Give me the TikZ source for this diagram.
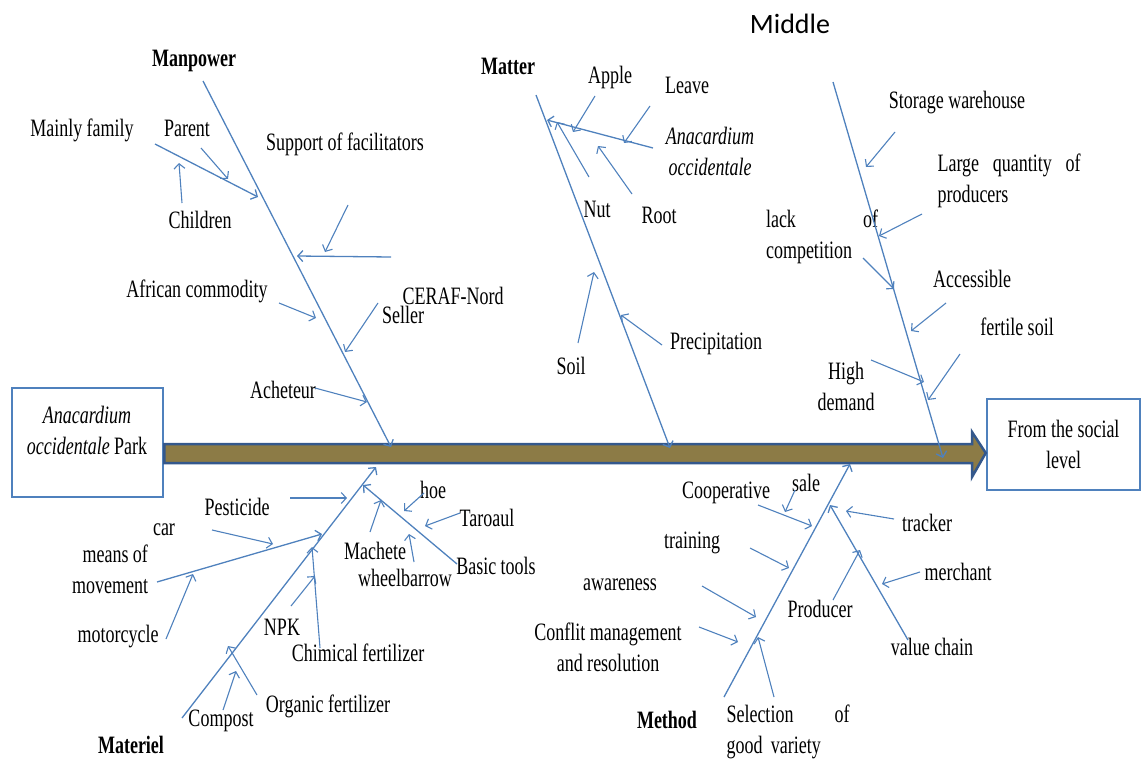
\documentclass[tikz,border=0pt]{standalone}
\usepackage{fontspec}
\setmainfont{Liberation Serif}[FakeStretch=0.72]
\newfontfamily\midfont{Carlito}
\usepackage{tikz}
\usetikzlibrary{arrows.meta, positioning}
\definecolor{boneblue}{RGB}{79,129,189}
\definecolor{barfill}{RGB}{140,123,70}
\definecolor{barline}{RGB}{52,88,140}
\tikzset{>={Straight Barb[length=5pt,width=11pt]}}
\tikzset{
  cause/.style={->, boneblue, line width=1.1pt},
  bone/.style={->, boneblue, line width=1.3pt},
  lbl/.style={inner sep=0pt},
  head/.style={inner sep=0pt, font=\fontsize{25}{31}\selectfont\bfseries},
  box/.style={draw=boneblue, line width=2.5pt, inner sep=0pt}
}
% arrow between two named points
\newcommand{\cause}[4][cause]{%
  \coordinate (#2-a) at (#3); \coordinate (#2-b) at (#4);
  \draw[#1] (#2-a) -- (#2-b);}

\begin{document}
\begin{tikzpicture}[x=1pt, y=-1pt, font=\fontsize{25}{31}\selectfont]
    \useasboundingbox (0,0) rectangle (1148,760);

    % boxes
    \node[box, minimum width=151pt, minimum height=109pt] (park) at (87.5,442.5) {};
    \node[lbl, align=center] (parktxt) at (87,430) {\textit{Anacardium}\\\textit{occidentale} Park};
    \node[box, minimum width=153pt, minimum height=91pt, align=center] (social) at (1063.5,444.5) {From the social\\level};

    % spine
    \draw[barline, line width=2.5pt, fill=barfill, line join=miter]
      (park.east |- 0,444) -- (972,444) -- (972,432) -- (social.west |- 0,453)
      -- (972,477) -- (972,463) -- (park.east |- 0,463) -- cycle;

    % headings
    \node[lbl, font=\midfont\fontsize{28}{32}\selectfont] (middle) at (790,24) {Middle};
    \node[head] (manpower) at (194,61) {Manpower};
    \node[head] (matter) at (508,66) {Matter};
    \node[head] (materiel) at (131,745) {Materiel};
    \node[head] (method) at (667,720) {Method};

    % Manpower
    \node[lbl] (family) at (82,130) {Mainly family};
    \node[lbl] (parent) at (187,128) {Parent};
    \node[lbl] (children) at (200,220) {Children};
    \node[lbl] (support) at (345,144) {Support of facilitators};
    \node[lbl] (african) at (197,291) {African commodity};
    \node[lbl] (ceraf) at (453,296) {CERAF-Nord};
    \node[lbl] (seller) at (403,315) {Seller};
    \node[lbl] (acheteur) at (283,390) {Acheteur};
    \cause[bone]{mpw}{203,81}{391,447}
    \cause[bone]{fam}{155,144}{258,197}
    \cause[bone]{sup}{391,257}{297,256}
    \cause{par}{201,148}{228,179}
    \cause{chi}{182,203}{179,163}
    \cause{supd}{348,205}{325,252}
    \cause{afr}{279,303}{316,318}
    \cause{sel}{378,303}{345,352}
    \cause{ach}{315,388}{367,402}

    % Matter
    \node[lbl] (apple) at (610,77) {Apple};
    \node[lbl] (leave) at (687,85) {Leave};
    \node[lbl, align=center] (anac) at (710,151) {\textit{Anacardium}\\\textit{occidentale}};
    \node[lbl] (nut) at (597,209) {Nut};
    \node[lbl] (root) at (659,215) {Root};
    \node[lbl] (soil) at (571,366) {Soil};
    \node[lbl] (precip) at (716,344) {Precipitation};
    \cause[bone]{mat}{536,95}{670,448}
    \cause[bone]{ana}{653,148}{547,120}
    \cause{app}{595,96}{573,132}
    \cause{lea}{650,106}{624,143}
    \cause{nu}{589,177}{557,122}
    \cause{roo}{632,194}{598,146}
    \cause{soi}{578,343}{594,272}
    \cause{pre}{662,345}{621,315}

    % Middle
    \node[lbl] (storage) at (957,103) {Storage warehouse};
    \node[lbl, text width=143pt, align=left] (quantity) at (1009,181) {Large\hfill quantity\hfill of\\producers};
    \node[lbl, text width=112pt, align=left] (lack) at (822,237) {lack\hfill of\\competition};
    \node[lbl] (access) at (972,279) {Accessible};
    \node[lbl] (fertile) at (1017,327) {fertile soil};
    \node[lbl, align=center] (demand) at (846,386) {High\\demand};
    \cause[bone]{mid}{833,82}{943,458}
    \cause{sto}{895,132}{866,167}
    \cause{qua}{922,214}{879,236}
    \cause{lac}{863,258}{894,289}
    \cause{acc}{946,303}{911,331}
    \cause{fer}{960,354}{928,400}
    \cause{hig}{871,360}{924,382}

    % Materiel
    \node[lbl] (car) at (164,530) {car};
    \node[lbl, align=right] (means) at (110,569) {means of\\movement};
    \node[lbl] (moto) at (118,637) {motorcycle};
    \node[lbl] (pesticide) at (237,507) {Pesticide};
    \node[lbl] (npk) at (282,627) {NPK};
    \node[lbl] (chemical) at (358,653) {Chimical fertilizer};
    \node[lbl] (organic) at (328,706) {Organic fertilizer};
    \node[lbl] (compost) at (221,721) {Compost};
    \node[lbl] (machete) at (375,551) {Machete};
    \node[lbl] (hoe) at (433,490) {hoe};
    \node[lbl] (taroaul) at (487,518) {Taroaul};
    \node[lbl] (tools) at (496,566) {Basic tools};
    \node[lbl] (wheel) at (405,578) {wheelbarrow};
    \cause[bone]{mtl}{182,718}{376,467}
    \cause[bone]{mov}{157,582}{322,534}
    \cause[bone]{too}{457,564}{363,485}
    \cause{ca}{212,530}{273,544}
    \cause{mot}{166,639}{193,574}
    \cause{pes}{290,498}{347,498}
    \cause{np}{291,606}{315,576}
    \cause{chm}{320,648}{312,547}
    \cause{org}{257,695}{228,646}
    \cause{com}{223,710}{236,671}
    \cause{mac}{370,532}{381,500}
    \cause{ho}{424,493}{404,511}
    \cause{tar}{460,513}{425,526}
    \cause{whe}{414,562}{409,534}

    % Method
    \node[lbl] (coop) at (726,493) {Cooperative};
    \node[lbl] (sale) at (806,483) {sale};
    \node[lbl] (training) at (692,543) {training};
    \node[lbl] (awareness) at (620,585) {awareness};
    \node[lbl, align=center] (conflit) at (608,647) {Conflit management\\and resolution};
    \node[lbl, text width=123pt, align=left] (selection) at (788,732) {Selection\hfill of\\\mbox{good variety}};
    \node[lbl] (tracker) at (927,523) {tracker};
    \node[lbl] (merchant) at (958,572) {merchant};
    \node[lbl] (producer) at (820,609) {Producer};
    \node[lbl] (chain) at (932,647) {value chain};
    \cause[bone]{mth}{724,697}{850,464}
    \cause[bone]{cha}{908,640}{830,505}
    \cause{coo}{758,505}{812,526}
    \cause{sal}{795,490}{785,512}
    \cause{tra}{750,548}{789,568}
    \cause{awa}{702,586}{756,617}
    \cause{con}{699,627}{738,642}
    \cause{sele}{774,697}{758,637}
    \cause{trk}{894,519}{846,511}
    \cause{mer}{920,572}{882,584}
    \cause{pro}{833,600}{860,550}
\end{tikzpicture}
\end{document}
